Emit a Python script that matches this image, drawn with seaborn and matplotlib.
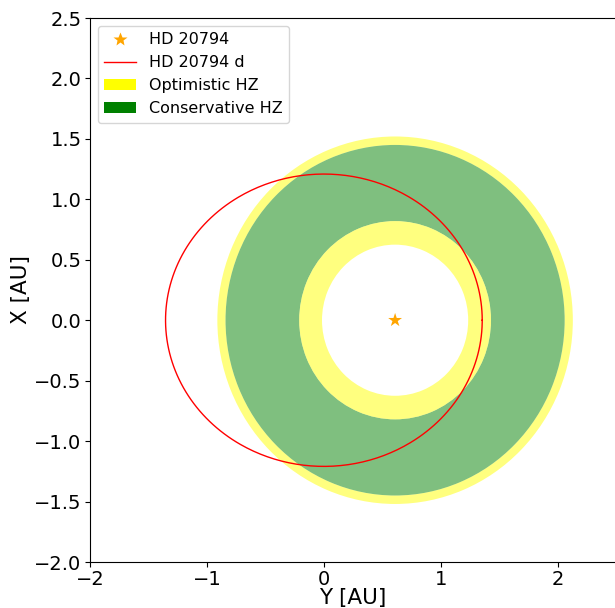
import numpy as np
import pandas as pd
import matplotlib
matplotlib.use("Agg")
import matplotlib.pyplot as plt
from matplotlib.patches import Annulus, Patch
from matplotlib.lines import Line2D
import seaborn as sns

# Data
star_name = "HD 20794"
planet_name = "HD 20794 d"
star_pos = [0.609, 0.0]          # star at focus (x, y) in AU
planet_a = 1.354                 # semi-major axis AU
planet_e = 0.45                  # eccentricity
opt_hz = [0.625, 1.52]           # optimistic HZ inner/outer AU
cons_hz = [0.82, 1.45]           # conservative HZ inner/outer AU
xticks = [-2, -1, 0, 1, 2]
yticks = [-2.0, -1.5, -1.0, -0.5, 0.0, 0.5, 1.0, 1.5, 2.0, 2.5]

fig = plt.figure(figsize=(6.15, 6.08), dpi=100)
ax = fig.add_axes([90/615, 46/608, 1.002 - 90/615, 544/608])

# HZ rings (non overlapping)
cx, cy = star_pos
ax.add_patch(Annulus((cx, cy), opt_hz[1], opt_hz[1] - cons_hz[1], color="yellow", alpha=0.5, lw=0))
ax.add_patch(Annulus((cx, cy), cons_hz[1], cons_hz[1] - cons_hz[0], color="green", alpha=0.5, lw=0))
ax.add_patch(Annulus((cx, cy), cons_hz[0], cons_hz[0] - opt_hz[0], color="yellow", alpha=0.5, lw=0))

# orbit
t = np.linspace(0, 2*np.pi, 400)
b = planet_a*np.sqrt(1 - planet_e**2)
orbit = pd.DataFrame({"x": planet_a*np.cos(t), "y": b*np.sin(t)})
sns.lineplot(data=orbit, x="x", y="y", sort=False, estimator=None, color="red", lw=1, ax=ax)

# star
sns.scatterplot(x=[star_pos[0]], y=[star_pos[1]], marker="*", s=110, color="orange",
                edgecolor="none", ax=ax, zorder=5)

ax.set_xlim(-2, 2.5)
ax.set_ylim(-2, 2.5)
ax.set_xticks(xticks)
ax.set_yticks(yticks)
ax.tick_params(labelsize=14, pad=2.5)
ax.set_xlabel("Y [AU]", fontsize=15.5, labelpad=-1)
ax.set_ylabel("X [AU]", fontsize=15.5, labelpad=2)

handles = [
    Line2D([], [], marker="*", color="orange", ls="none", markersize=10, markeredgecolor="none"),
    Line2D([], [], color="red", lw=1),
    Patch(facecolor="yellow"),
    Patch(facecolor="green"),
]
ax.legend(handles, [star_name, planet_name, "Optimistic HZ", "Conservative HZ"],
          loc="upper left", fontsize=11.5)

fig.savefig("out.png", dpi=100)
